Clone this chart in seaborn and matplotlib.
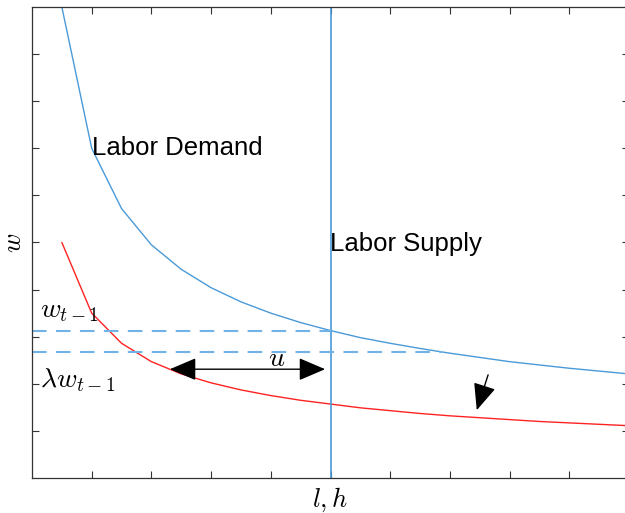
import matplotlib
matplotlib.use("Agg")
import matplotlib.pyplot as plt
import seaborn as sns
import pandas as pd

# labor quantity grid and wage curves
labor = [0.5, 1.0, 1.5, 2.0, 2.5, 3.0, 3.5, 4.0, 4.5, 5.0,
         5.5, 6.0, 6.5, 7.0, 7.5, 8.0, 8.5, 9.0, 9.5, 10.0]
demand = [10.0, 7.0, 5.72, 4.95, 4.43, 4.04, 3.74, 3.5, 3.3, 3.13,
          2.98, 2.86, 2.75, 2.65, 2.56, 2.47, 2.4, 2.33, 2.27, 2.21]
demand_low = [5.0, 3.5, 2.86, 2.47, 2.21, 2.02, 1.87, 1.75, 1.65, 1.57,
              1.49, 1.43, 1.37, 1.32, 1.28, 1.24, 1.2, 1.17, 1.14, 1.11]
supply_x = 5.0
w_prev = 3.13
w_low = 2.67
w_low_end = 6.87
u_span = [2.31, 4.91]
u_y = 2.31
shift_arrow = [(7.64, 2.19), (7.45, 1.44)]

df = pd.DataFrame({"l": labor, "demand": demand, "demand_low": demand_low})

sns.set_style("white")
plt.rcParams["mathtext.fontset"] = "cm"
plt.rcParams["font.family"] = ["Liberation Sans", "DejaVu Sans"]
plt.rcParams["text.color"] = "black"
plt.rcParams["axes.labelcolor"] = "black"

fig = plt.figure(figsize=(6.25, 5.13), dpi=100)
ax = fig.add_axes([32 / 625, 35 / 513, 597 / 625, 471 / 513])

blue = "#4a9ad8"
dash_blue = "#72b2e4"
sns.lineplot(data=df, x="l", y="demand", ax=ax, color=blue, lw=1.0)
sns.lineplot(data=df, x="l", y="demand_low", ax=ax, color="#ff2222", lw=1.0)
ax.axvline(supply_x, color=blue, lw=1.2)
ax.plot([0, supply_x], [w_prev, w_prev], color=dash_blue, lw=1.5, ls=(0, (7, 4.5)))
ax.plot([0, w_low_end], [w_low, w_low], color=dash_blue, lw=1.5, ls=(0, (7, 4.5)))

head = "<|-|>,head_length=0.75,head_width=0.32"
ax.annotate("", xy=(u_span[0], u_y), xytext=(u_span[1], u_y),
            arrowprops=dict(arrowstyle=head, color="black", lw=1.0,
                            mutation_scale=22, shrinkA=0, shrinkB=0))
ax.annotate("", xy=shift_arrow[1], xytext=shift_arrow[0],
            arrowprops=dict(arrowstyle="-|>,head_length=0.75,head_width=0.32",
                            color="black", lw=1.0,
                            mutation_scale=22, shrinkA=0, shrinkB=0))

ax.text(1.0, 7.0, "Labor Demand", fontsize=18.5, va="center", ha="left")
ax.text(5.0, 4.97, "Labor Supply", fontsize=18.5, va="center", ha="left")
ax.text(4.1, 2.52, r"$u$", fontsize=20, ha="center", va="center")
ax.text(0.13, 3.55, r"$w_{t-1}$", fontsize=20, ha="left", va="center")
ax.text(0.13, 2.07, r"$\lambda w_{t-1}$", fontsize=20, ha="left", va="center")

ax.set_xlim(0, 10)
ax.set_ylim(0, 10)
ax.set_xticks(range(1, 10))
ax.set_yticks(range(1, 10))
ax.set_xticklabels([])
ax.set_yticklabels([])
ax.tick_params(direction="in", length=5, width=0.8, colors="#333333",
               top=True, right=True, bottom=True, left=True)
for s in ax.spines.values():
    s.set_visible(True)
    s.set_color("#333333")
    s.set_linewidth(0.9)
ax.set_xlabel(r"$l, h$", fontsize=19, labelpad=2)
ax.set_ylabel(r"$w$", fontsize=19, labelpad=1)

fig.savefig("out.png", dpi=100)
